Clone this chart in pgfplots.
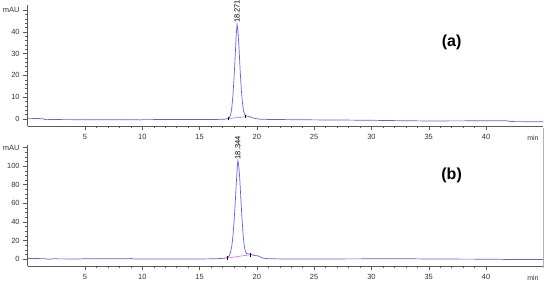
\documentclass[border=0pt]{standalone}
\usepackage{fontspec}
\setmainfont{Liberation Sans}
\usepackage{pgfplots}
\pgfplotsset{compat=1.18}

\definecolor{trace}{RGB}{95,95,245}
\definecolor{base}{RGB}{240,90,240}
\definecolor{axgray}{RGB}{90,90,90}

\pgfplotsset{
  chrom/.style={
    scale only axis,
    width=515.6pt, height=121pt,
    xmin=0, xmax=45,
    axis x line*=bottom, axis y line*=left,
    axis line style={axgray, -},
    tick align=outside,
    major tick length=4.5pt, minor tick length=2.5pt,
    tick style={axgray, line width=0.4pt},
    xtick={5,10,...,40},
    minor x tick num=4,
    tick label style={font=\fontsize{7.5}{8.5}\selectfont, text=black!80},
    /pgf/number format/assume math mode=true,
    clip=false,
  },
}

\begin{document}
\begin{tikzpicture}
\useasboundingbox (0,0) rectangle (550pt,284pt);

% panel (a)
\begin{axis}[chrom, at={(27.7pt,158pt)}, anchor=south west,
  ymin=-3.21, ymax=52.3,
  ytick={0,10,20,30,40,50}, yticklabels={0,10,20,30,40,mAU},
  minor y tick num=4]
\addplot[trace, line width=0.7pt] coordinates {
(0,0.3) (0.8,0.25) (1.3,0.1) (1.6,-0.3) (2.0,-0.25) (4,-0.3) (6,-0.3) (8,-0.3)
(9.7,-0.3) (9.8,-0.5) (9.9,-0.3) (12,-0.25) (15,-0.2) (16.5,-0.2) (17.2,-0.1)
(17.5,0.2) (17.6,0.7) (17.7,1.8) (17.8,4.5) (17.9,10) (18.0,18) (18.1,28) (18.2,38.5)
(18.271,43.5) (18.35,40.5) (18.45,32) (18.55,21.5) (18.65,13) (18.75,7) (18.85,3.5)
(18.95,2.0) (19.1,1.4) (19.25,1.2) (19.4,1.0) (19.6,0.6) (19.9,0.2) (20.3,-0.1)
(21,-0.2) (23,-0.3) (25,-0.4) (28,-0.5) (30,-0.6) (33,-0.8) (35,-0.9) (38,-0.85)
(41.8,-0.8) (42.1,-1.1) (42.5,-1.2) (45,-1.25)
};
\addplot[base, line width=0.6pt] coordinates {(17.5,0.2) (18.95,1.0)};
\addplot[only marks, mark=|, mark size=1.5pt, black] coordinates {(17.5,0.2) (18.95,1.0)};
\node[rotate=90, anchor=west, inner sep=1pt, font=\fontsize{7.5}{8.5}\selectfont] at (axis cs:18.271,43.5) {18.271};
\node[font=\fontsize{16}{18}\selectfont\bfseries] at (axis cs:37,35) {(a)};
\node[anchor=north, font=\fontsize{7}{8}\selectfont, text=black!80, yshift=-6pt] at (axis cs:44.1,-3.21) {min};
\end{axis}

% panel (b)
\begin{axis}[chrom, at={(27.7pt,18pt)}, anchor=south west,
  ymin=-7.53, ymax=122.7,
  ytick={0,20,40,60,80,100,120}, yticklabels={0,20,40,60,80,100,mAU},
  minor y tick num=3]
\addplot[trace, line width=0.7pt] coordinates {
(0,0.5) (1.5,0.4) (1.8,-0.3) (2.2,0.2) (4.5,0.0) (5,0.3) (8.8,0.2) (9,0.6) (9.3,0.0)
(12,0) (15,0) (16.5,0.3) (17.2,0.8) (17.4,1.5) (17.6,3.5) (17.7,7) (17.8,13)
(17.9,23) (18.0,38) (18.1,58) (18.2,80) (18.3,100) (18.344,106) (18.4,103) (18.5,88)
(18.6,66) (18.7,44) (18.8,26) (18.9,14) (19.0,8) (19.1,6) (19.3,5.3) (19.5,5.0)
(19.7,4.0) (19.9,3.6) (20.1,3.4) (20.3,2.0) (20.6,0.8) (21,0.3) (22,0.1) (25,0)
(30,0.2) (33,0.3) (35,0) (40,-0.2) (42,-0.5) (45,-0.5)
};
\addplot[base, line width=0.6pt] coordinates {(17.4,1.0) (19.4,4.6)};
\addplot[only marks, mark=|, mark size=2pt, black] coordinates {(17.4,1.0) (19.4,4.6)};
\node[rotate=90, anchor=west, inner sep=1pt, font=\fontsize{7.5}{8.5}\selectfont] at (axis cs:18.344,106) {18.344};
\node[font=\fontsize{16}{18}\selectfont\bfseries] at (axis cs:37,90) {(b)};
\node[anchor=north, font=\fontsize{7}{8}\selectfont, text=black!80, yshift=-6pt] at (axis cs:44.1,-7.53) {min};
\end{axis}

\draw[black!30, line width=0.5pt] (543pt,156pt) -- (543pt,16pt);
\end{tikzpicture}
\end{document}
